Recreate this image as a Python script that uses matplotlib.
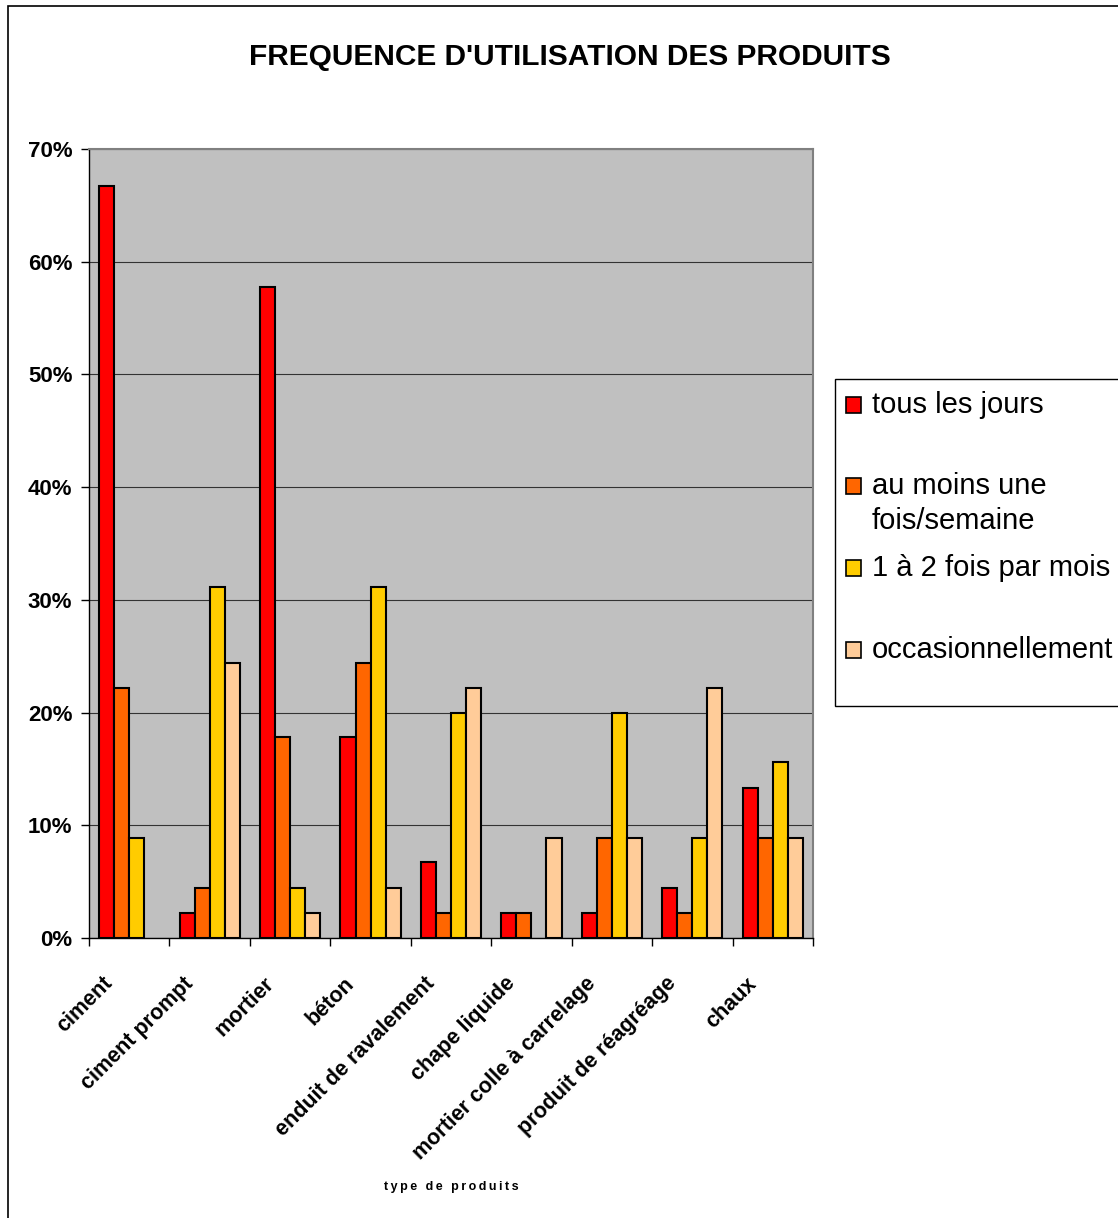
import matplotlib.pyplot as plt
import numpy as np
from matplotlib.patches import Rectangle
from matplotlib.transforms import ScaledTranslation

plt.rcParams['font.family'] = ['Liberation Sans', 'DejaVu Sans']

# donnees (en %)
produits = ['ciment', 'ciment prompt', 'mortier', 'béton', 'enduit de ravalement',
            'chape liquide', 'mortier colle à carrelage', 'produit de réagréage', 'chaux']
series = ['tous les jours', 'au moins une\nfois/semaine', '1 à 2 fois par mois', 'occasionnellement']
tous_les_jours = [66.7, 2.2, 57.8, 17.8, 6.7, 2.2, 2.2, 4.4, 13.3]
une_fois_semaine = [22.2, 4.4, 17.8, 24.4, 2.2, 2.2, 8.9, 2.2, 8.9]
fois_par_mois = [8.9, 31.1, 4.4, 31.1, 20.0, 0.0, 20.0, 8.9, 15.6]
occasionnellement = [0.0, 24.4, 2.2, 4.4, 22.2, 8.9, 8.9, 22.2, 8.9]
couleurs = ['#FF0000', '#FF6600', '#FFCC00', '#FFCC99']

valeurs = [tous_les_jours, une_fois_semaine, fois_par_mois, occasionnellement]

fig = plt.figure(figsize=(11.18, 12.18), dpi=100)
ax = fig.add_axes([89/1118, 1 - 938/1218, (813-89)/1118, (938-149)/1218])
ax.set_facecolor('#C0C0C0')

x = np.arange(len(produits))
w = 0.187
for i, (vals, c) in enumerate(zip(valeurs, couleurs)):
    v = np.array(vals)
    m = v > 0
    ax.bar(x[m] + (i - 1.5) * w, v[m], width=w, color=c, edgecolor='black', linewidth=1.5, zorder=3)

ax.set_xlim(-0.5, len(produits) - 0.5)
ax.set_ylim(0, 70)
ax.set_yticks(range(0, 71, 10))
ax.set_yticklabels([f'{t}%' for t in range(0, 71, 10)], fontsize=16, fontweight='bold')
ax.yaxis.grid(True, color='#333333', linewidth=0.8, zorder=1)
ax.set_axisbelow(True)

ax.set_xticks(np.arange(-0.5, len(produits)))
ax.set_xticklabels([])
ax.tick_params(axis='x', length=6, width=1, direction='out')
ax.tick_params(axis='y', length=6, width=1, direction='out', pad=6)

# etiquettes des categories, en biais
decal = ScaledTranslation(-27/100, -35/100, fig.dpi_scale_trans)
for xi, nom in zip(x, produits):
    ax.text(xi, 0, nom, transform=ax.get_xaxis_transform() + decal,
            rotation=45, ha='right', va='top', rotation_mode='anchor',
            fontsize=15.5, fontweight='bold')

for s in ['top', 'right']:
    ax.spines[s].set_color('#808080')
    ax.spines[s].set_linewidth(1.5)
for s in ['left', 'bottom']:
    ax.spines[s].set_color('black')
    ax.spines[s].set_linewidth(1)

fig.text(570/1118, 1 - 57/1218, "FREQUENCE D'UTILISATION DES PRODUITS",
         ha='center', va='center', fontsize=21.5, fontweight='bold')
fig.text(451/1118, 1 - 1187/1218, '\u2009'.join('type de produits'),
         ha='center', va='center', fontsize=9, fontweight='bold')

# cadre exterieur
fig.patches.append(Rectangle((8/1118, -0.1), 1.2, 1 - 6/1218 + 0.1, transform=fig.transFigure,
                             fill=False, edgecolor='black', linewidth=1.2))

# legende
fig.patches.append(Rectangle((835/1118, 1 - 706/1218), 0.3, (706-379)/1218,
                             transform=fig.transFigure, facecolor='white',
                             edgecolor='black', linewidth=1))
ys = [405, 486, 568, 650]
for lab, c, yy in zip(series, couleurs, ys):
    fig.patches.append(Rectangle((846/1118, 1 - (yy + 8)/1218), 15/1118, 16/1218,
                                 transform=fig.transFigure, facecolor=c,
                                 edgecolor='black', linewidth=1.2))
    fig.text(872/1118, 1 - (yy + 8)/1218, lab.split('\n')[0], ha='left', va='baseline',
             fontsize=21)
    if '\n' in lab:
        fig.text(872/1118, 1 - (yy + 43)/1218, lab.split('\n')[1], ha='left', va='baseline',
                 fontsize=21)

fig.savefig('out.png', dpi=100)
